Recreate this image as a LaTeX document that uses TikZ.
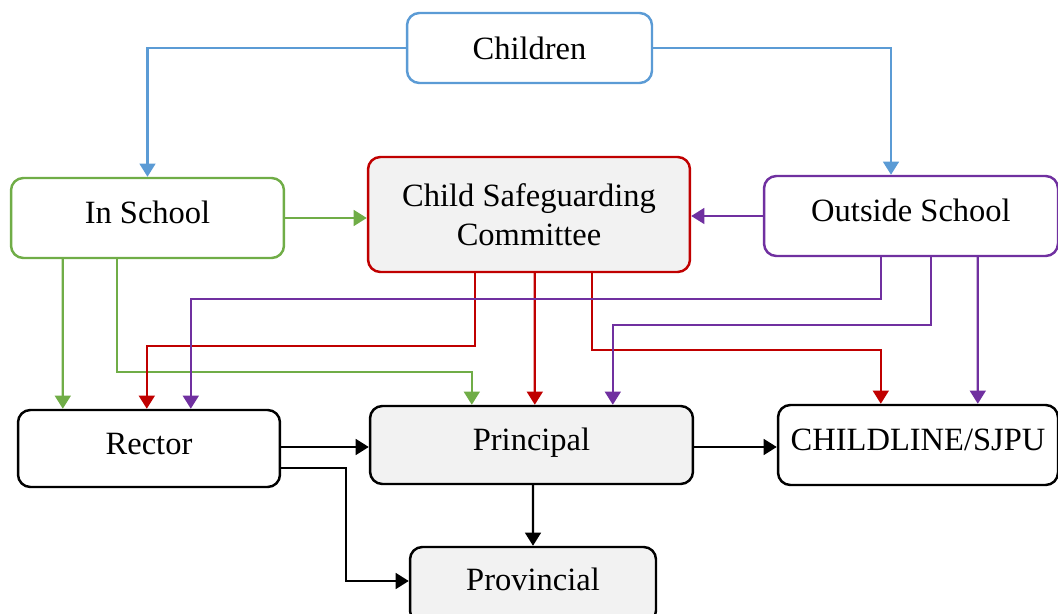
\documentclass[tikz,border=0pt]{standalone}
\usepackage{fontspec}
\setmainfont{Liberation Serif}
\usepackage{xcolor}
\usetikzlibrary{arrows.meta,calc}

\definecolor{lineblue}{HTML}{5B9BD5}
\definecolor{linegreen}{HTML}{70AD47}
\definecolor{linered}{HTML}{C00000}
\definecolor{linepurple}{HTML}{7030A0}
\definecolor{boxgray}{HTML}{F2F2F2}

\begin{document}
\begin{tikzpicture}[x=0.02cm, y=-0.02cm,
        box/.style={draw, line width=1.4pt, rounded corners=7pt, align=center,
            font=\fontsize{18.5}{22}\selectfont, inner sep=0pt},
        oneline/.style={text height=12pt, text depth=5.4pt},
        flow/.style={line width=1.3pt, -{Triangle[width=9pt,length=7.5pt]}}]

        \useasboundingbox (0,0) rectangle (1058,614);

        % ---------- Top row ----------
        \node[box, draw=lineblue, minimum width=4.9cm, minimum height=1.4cm] (chi) at (529.5,48) {Children};

        % ---------- Middle row ----------
        \node[box, oneline, draw=linegreen, minimum width=5.46cm, minimum height=1.6cm] (ins) at (147.5,218) {In School};
        \node[box, draw=linered, fill=boxgray, minimum width=6.44cm, minimum height=2.3cm] (csc) at (529,214.5) {Child Safeguarding\\Committee};
        \node[box, oneline, draw=linepurple, minimum width=5.88cm, minimum height=1.6cm] (out) at (911,216) {Outside School};

        % ---------- Bottom rows ----------
        \node[box, oneline, minimum width=5.24cm, minimum height=1.54cm] (rec) at (149,448.5) {Rector};
        \node[box, oneline, fill=boxgray, minimum width=6.46cm, minimum height=1.56cm] (pri) at (531.5,445) {Principal};
        \node[box, oneline, minimum width=5.6cm, minimum height=1.6cm] (chl) at (918,445) {CHILDLINE/SJPU};
        \node[box, oneline, fill=boxgray, minimum width=4.92cm, minimum height=1.52cm] (pro) at (533,585) {Provincial};

        % children arrows
        \draw[flow, lineblue] (chi.west) -| (ins.north);
        \draw[flow, lineblue] (chi.east) -| ($(out.north)+(-20,0)$);

        % in school arrows
        \draw[flow, linegreen] (ins.east) -- (ins.east -| csc.west);
        \draw[flow, linegreen] ($(ins.south west)+(53,0)$) -- ($(rec.north west)+(46,0)$);
        \draw[flow, linegreen] ($(ins.south west)+(107,0)$) -- ++(0,113) -| ($(pri.north west)+(103,0)$);

        % committee arrows
        \draw[flow, linered] ($(csc.south west)+(108,0)$) -- ++(0,73) -| ($(rec.north west)+(130,0)$);
        \draw[flow, linered] ($(csc.south west)+(168,0)$) -- ($(pri.north west)+(166,0)$);
        \draw[flow, linered] ($(csc.south west)+(225,0)$) -- ++(0,77) -| ($(chl.north west)+(104,0)$);

        % outside school arrows
        \draw[flow, linepurple] (out.west) -- (out.west -| csc.east);
        \draw[flow, linepurple] ($(out.south west)+(118,0)$) -- ++(0,42) -| ($(rec.north west)+(174,0)$);
        \draw[flow, linepurple] ($(out.south west)+(168,0)$) -- ++(0,68) -| ($(pri.north west)+(244,0)$);
        \draw[flow, linepurple] ($(out.south west)+(215,0)$) -- ($(chl.north west)+(201,0)$);

        % reporting arrows
        \draw[flow] ($(rec.east)+(0,-1.5)$) -- ($(pri.west)+(0,2)$);
        \draw[flow] ($(rec.south east)+(0,-20)$) -- ++(65,0) |- ($(pro.west)+(0,-4)$);
        \draw[flow] ($(pri.east)+(0,2)$) -- ($(chl.west)+(0,2)$);
        \draw[flow] ($(pri.south)+(1.5,0)$) -- (pro.north);

\end{tikzpicture}
\end{document}
